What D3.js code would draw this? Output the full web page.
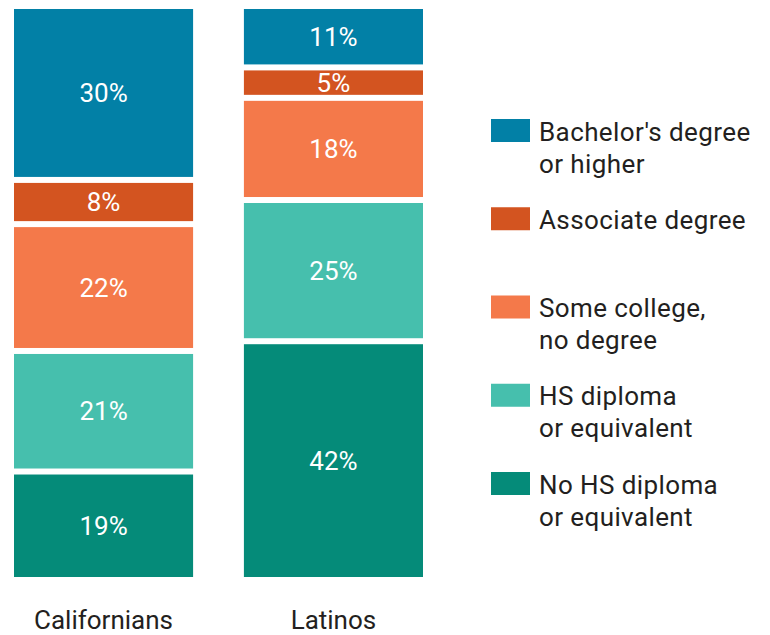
<!DOCTYPE html>
<html>
<head>
<meta charset="utf-8">
<script src="https://cdn.jsdelivr.net/npm/d3@7"></script>
<style>
  body { margin: 0; background: #fff; }
  svg { display: block; font-family: Roboto, "Noto Sans", sans-serif; }
</style>
</head>
<body>
<svg width="770" height="635"></svg>
<script>
// groups and education levels, top of the stack first
const groups = ["Californians", "Latinos"];
const levels = ["Bachelor's degree or higher", "Associate degree", "Some college, no degree",
                "HS diploma or equivalent", "No HS diploma or equivalent"];
const legendLines = [["Bachelor's degree", "or higher"], ["Associate degree"],
                     ["Some college,", "no degree"], ["HS diploma", "or equivalent"],
                     ["No HS diploma", "or equivalent"]];
// shares (%); labels show them rounded
const californians = [30.3, 7.7, 22.1, 21.0, 18.9];
const latinos = [10.7, 5.3, 17.8, 24.6, 41.6];
const colors = ["#0280a6", "#d35420", "#f4794a", "#46bfad", "#058b79"];

const svg = d3.select("svg");

const gap = 6;

const x = d3.scaleBand()
    .domain(groups)
    .range([14, 423])
    .paddingInner(0.221);

// stack runs top down: 0% at the top of the bar
const y = d3.scaleLinear()
    .domain([0, 100])
    .range([6, 580]);

const color = d3.scaleOrdinal().domain(levels).range(colors);

const table = groups.map(g => {
    const vals = g === "Californians" ? californians : latinos;
    const row = { group: g };
    levels.forEach((l, i) => row[l] = vals[i]);
    return row;
});

const stacked = d3.stack().keys(levels)(table);

const layer = svg.selectAll(".layer")
    .data(stacked)
    .join("g")
    .attr("class", "layer")
    .attr("fill", d => color(d.key));

layer.selectAll("rect")
    .data(d => d)
    .join("rect")
    .attr("x", d => x(d.data.group))
    .attr("width", x.bandwidth())
    .attr("y", d => y(d[0]) + gap / 2)
    .attr("height", d => y(d[1]) - y(d[0]) - gap);

layer.selectAll("text")
    .data(d => d)
    .join("text")
    .attr("x", d => x(d.data.group) + x.bandwidth() / 2)
    .attr("y", d => (y(d[0]) + y(d[1])) / 2)
    .attr("dy", "0.35em")
    .attr("text-anchor", "middle")
    .attr("fill", "#fff")
    .style("font-size", "26px")
    .text(d => Math.round(d[1] - d[0]) + "%");

// category labels under the bars
svg.selectAll(".cat")
    .data(groups)
    .join("text")
    .attr("class", "cat")
    .attr("x", d => x(d) + x.bandwidth() / 2)
    .attr("y", 629)
    .attr("text-anchor", "middle")
    .attr("fill", "#231f20")
    .style("font-size", "26px")
    .text(d => d);

// legend
const legend = svg.append("g")
    .selectAll("g")
    .data(levels)
    .join("g")
    .attr("transform", (d, i) => `translate(491, ${119 + i * 88.25})`);

legend.append("rect")
    .attr("width", 39)
    .attr("height", 23)
    .attr("fill", d => color(d));

legend.append("text")
    .attr("y", 21.5)
    .attr("fill", "#231f20")
    .style("font-size", "26px")
    .style("letter-spacing", "0.4px")
    .selectAll("tspan")
    .data((d, i) => legendLines[i])
    .join("tspan")
    .attr("x", 48)
    .attr("dy", (d, j) => j === 0 ? 0 : 32)
    .text(d => d);
</script>
</body>
</html>
